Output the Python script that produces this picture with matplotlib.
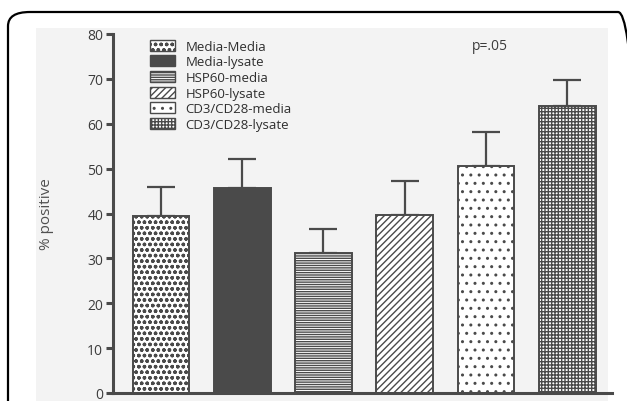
import matplotlib
matplotlib.use("Agg")
import matplotlib.pyplot as plt
from matplotlib.patches import FancyBboxPatch, Rectangle, Patch

groups = ["Media-Media", "Media-lysate", "HSP60-media", "HSP60-lysate",
          "CD3/CD28-media", "CD3/CD28-lysate"]
means = [39.5, 45.6, 31.1, 39.6, 50.5, 63.9]
errs = [6.5, 6.5, 5.4, 7.7, 7.7, 5.8]
yticks = [0, 10, 20, 30, 40, 50, 60, 70, 80]

ink = "#4a4a4a"
fills = ["white", ink, "white", "white", "white", "white"]
hatches = ["ooo", None, "-------", "/////", "..", "+++++"]

plt.rcParams.update({
    "font.family": ["Open Sans", "DejaVu Sans"],
    "hatch.linewidth": 1.0,
})

fig = plt.figure(figsize=(6.27, 4.02), dpi=100)
W, H = 627, 402

# scanned page look: rounded frame and light grey panel
fig.patches.append(FancyBboxPatch((8 / W, -0.2), 632 / W, 1.2 - 13 / H,
                                  boxstyle="round,pad=0,rounding_size=0.035",
                                  transform=fig.transFigure, fill=False,
                                  edgecolor="black", linewidth=1.6, zorder=-2))
fig.patches.append(Rectangle((36 / W, 0), (608 - 36) / W, 1 - 29 / H,
                             transform=fig.transFigure, facecolor="#f3f3f3",
                             edgecolor="none", zorder=-1))

ax = fig.add_axes([113 / W, 8 / H, (612 - 113) / W, (394 - 35) / H])
ax.set_facecolor("none")
x = list(range(len(groups)))
bars = ax.bar(x, means, width=0.7, color=fills, edgecolor=ink, linewidth=1.4,
              zorder=2)
for b, h in zip(bars, hatches):
    if h:
        b.set_hatch(h)
ax.errorbar(x, means, yerr=[[0] * len(errs), errs], fmt="none", ecolor=ink,
            elinewidth=1.6, capsize=10, capthick=1.6, zorder=1)

ax.set_xlim(-0.59, 5.55)
ax.set_ylim(0, 80)
ax.set_yticks(yticks)
ax.set_xticks([])
for s in ["top", "right"]:
    ax.spines[s].set_visible(False)
for s in ["left", "bottom"]:
    ax.spines[s].set_linewidth(2.2)
    ax.spines[s].set_color(ink)
ax.tick_params(axis="y", direction="out", length=5, width=2.2, color=ink,
               labelsize=10, labelcolor="#3c3c3c", pad=2)
ax.set_ylabel("% positive", fontsize=11, color="#505050", labelpad=24)

handles = [Patch(facecolor=f, edgecolor=ink, hatch=h, linewidth=1.0)
           for f, h in zip(fills, hatches)]
ax.legend(handles, groups, loc="upper left", bbox_to_anchor=(0.055, 1.01),
          frameon=False, fontsize=9.5, handlelength=1.9, handleheight=0.9,
          labelspacing=0.2, handletextpad=0.8, borderpad=0.2,
          labelcolor="#2e2e2e")
ax.text(4.05, 77.5, "p=.05", fontsize=10, color="#3c3c3c", ha="center",
        va="center")

fig.savefig("out.png", dpi=100)
